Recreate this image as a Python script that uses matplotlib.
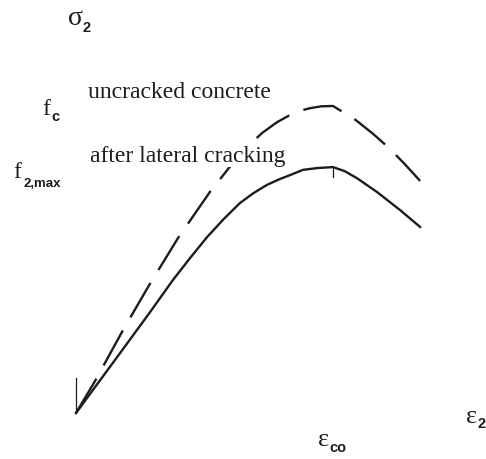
import matplotlib.pyplot as plt

# Kurva tegangan-regangan beton tekan (dinormalisasi: eps/eps_co, sigma/fc)
# beton tanpa retak (garis putus-putus)
eps_uncracked = [0.000, 0.074, 0.179, 0.280, 0.397, 0.521, 0.607, 0.665, 0.724,
                 0.780, 0.833, 0.875, 0.911, 0.955, 1.000, 1.039, 1.089, 1.155,
                 1.222, 1.280, 1.339]
sig_uncracked = [0.000, 0.104, 0.264, 0.410, 0.570, 0.720, 0.811, 0.866, 0.912,
                 0.946, 0.971, 0.985, 0.993, 0.999, 1.000, 0.980, 0.954, 0.910,
                 0.860, 0.810, 0.756]

# setelah retak lateral (garis penuh)
eps_cracked = [0.000, 0.152, 0.285, 0.377, 0.445, 0.510, 0.575, 0.638, 0.690,
               0.743, 0.790, 0.833, 0.883, 0.940, 1.000, 1.045, 1.093, 1.171,
               1.261, 1.339]
sig_cracked = [0.000, 0.173, 0.325, 0.433, 0.506, 0.573, 0.632, 0.684, 0.716,
               0.743, 0.761, 0.775, 0.792, 0.798, 0.801, 0.788, 0.765, 0.720,
               0.661, 0.606]

eps_co = 1.0
f2_max = 0.801

serif = 'Liberation Serif'
sans = 'Liberation Sans'
warna = '#1c1c1c'

fig = plt.figure(figsize=(4.86, 4.59), dpi=100)
ax = fig.add_axes([0, 0, 1, 1])
ax.set_xlim(-0.2957, 1.5953)
ax.set_ylim(-0.1498, 1.3453)
ax.axis('off')

# kurva
ax.plot(eps_uncracked, sig_uncracked, color=warna, lw=1.7, dashes=(16.9, 6.4))
ax.plot(eps_cracked, sig_cracked, color=warna, lw=1.7)

# tanda kecil di titik asal dan di puncak
ax.plot([0, 0], [0, 0.114], color=warna, lw=0.9)
ax.plot([eps_co, eps_co], [f2_max, f2_max - 0.032], color=warna, lw=0.9)

# label sumbu
ax.text(-0.033, 1.264, 'σ', family=serif, fontsize=20, color=warna)
ax.text(0.027, 1.242, '2', family=sans, fontsize=10.5, weight='bold', color=warna)
ax.text(1.519, -0.033, 'ε', family=serif, fontsize=19, color=warna)
ax.text(1.564, -0.050, '2', family=sans, fontsize=10.5, weight='bold', color=warna)
ax.text(0.940, -0.107, 'ε', family=serif, fontsize=19, color=warna)
ax.text(0.984, -0.128, 'co', family=sans, fontsize=10.5, weight='bold', color=warna)

# label tegangan
ax.text(-0.132, 0.971, 'f', family=serif, fontsize=17, color=warna)
ax.text(-0.097, 0.950, 'c', family=sans, fontsize=10.5, weight='bold', color=warna)
ax.text(-0.245, 0.765, 'f', family=serif, fontsize=17, color=warna)
ax.text(-0.206, 0.735, '2,max', family=sans, fontsize=9.5, weight='bold', color=warna)

# keterangan kurva
ax.text(0.047, 1.026, 'uncracked concrete', family=serif, fontsize=17, color=warna)
ax.text(0.054, 0.818, 'after lateral cracking', family=serif, fontsize=17, color=warna,
        zorder=5, bbox=dict(facecolor='white', edgecolor='none', pad=0))

plt.savefig('out.png', dpi=100)
plt.close()
